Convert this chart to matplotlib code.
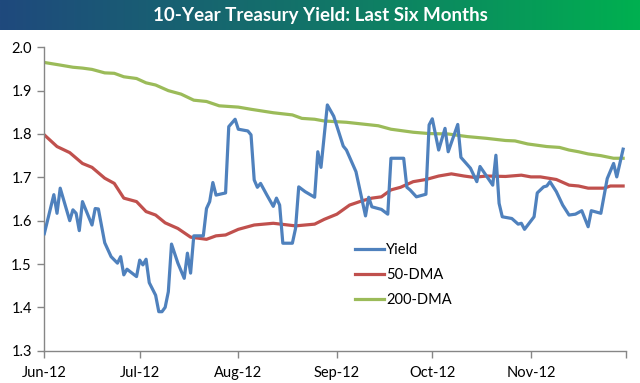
import matplotlib
matplotlib.use('Agg')
import matplotlib.pyplot as plt
from matplotlib.colors import LinearSegmentedColormap
import numpy as np
import pandas as pd

# Excel-ish palette
BLUE = '#4F81BD'
RED = '#C0504D'
GREEN = '#9BBB59'
AXIS_GRAY = '#868686'
BAR_LEFT = '#1F497D'
BAR_RIGHT = '#00B050'

plt.rcParams['font.family'] = ['Lato', 'DejaVu Sans']

# 10-year yield
yield_dates = [
    '2012-06-01', '2012-06-04', '2012-06-05', '2012-06-06', '2012-06-09', '2012-06-10',
    '2012-06-11', '2012-06-12', '2012-06-13', '2012-06-16', '2012-06-17', '2012-06-18',
    '2012-06-20', '2012-06-22', '2012-06-24', '2012-06-25', '2012-06-26', '2012-06-27',
    '2012-06-30', '2012-07-01', '2012-07-02', '2012-07-03', '2012-07-04', '2012-07-06',
    '2012-07-07', '2012-07-08', '2012-07-09', '2012-07-10', '2012-07-11', '2012-07-13',
    '2012-07-15', '2012-07-16', '2012-07-17', '2012-07-18', '2012-07-21', '2012-07-22',
    '2012-07-23', '2012-07-24', '2012-07-25', '2012-07-28', '2012-07-29', '2012-07-31',
    '2012-08-01', '2012-08-04', '2012-08-05', '2012-08-06', '2012-08-07', '2012-08-08',
    '2012-08-10', '2012-08-12', '2012-08-13', '2012-08-14', '2012-08-15', '2012-08-18',
    '2012-08-19', '2012-08-20', '2012-08-22', '2012-08-25', '2012-08-26', '2012-08-27',
    '2012-08-29', '2012-08-31', '2012-09-03', '2012-09-04', '2012-09-07', '2012-09-10',
    '2012-09-11', '2012-09-12', '2012-09-15', '2012-09-17', '2012-09-18', '2012-09-22',
    '2012-09-23', '2012-09-24', '2012-09-26', '2012-09-29', '2012-09-30', '2012-10-01',
    '2012-10-03', '2012-10-05', '2012-10-06', '2012-10-09', '2012-10-10', '2012-10-13',
    '2012-10-15', '2012-10-16', '2012-10-20', '2012-10-21', '2012-10-22', '2012-10-23',
    '2012-10-26', '2012-10-28', '2012-10-29', '2012-10-30', '2012-11-02', '2012-11-03',
    '2012-11-05', '2012-11-06', '2012-11-07', '2012-11-09', '2012-11-11', '2012-11-13',
    '2012-11-15', '2012-11-17', '2012-11-19', '2012-11-20', '2012-11-23', '2012-11-25',
    '2012-11-27', '2012-11-28', '2012-11-30',
]
yield_values = [
    1.570, 1.660, 1.617, 1.675, 1.600, 1.625,
    1.617, 1.577, 1.644, 1.590, 1.628, 1.627,
    1.549, 1.517, 1.502, 1.517, 1.475, 1.488,
    1.471, 1.509, 1.498, 1.511, 1.457, 1.428,
    1.390, 1.390, 1.400, 1.436, 1.546, 1.502,
    1.467, 1.525, 1.479, 1.565, 1.565, 1.628,
    1.644, 1.688, 1.659, 1.664, 1.817, 1.834,
    1.811, 1.807, 1.798, 1.694, 1.677, 1.686,
    1.659, 1.633, 1.652, 1.636, 1.548, 1.548,
    1.582, 1.678, 1.667, 1.654, 1.759, 1.723,
    1.867, 1.841, 1.772, 1.763, 1.713, 1.611,
    1.654, 1.632, 1.626, 1.615, 1.744, 1.744,
    1.677, 1.671, 1.655, 1.661, 1.821, 1.835,
    1.763, 1.813, 1.759, 1.822, 1.746, 1.721,
    1.690, 1.725, 1.682, 1.751, 1.640, 1.609,
    1.605, 1.592, 1.594, 1.580, 1.609, 1.664,
    1.678, 1.680, 1.690, 1.667, 1.636, 1.613,
    1.615, 1.623, 1.586, 1.623, 1.617, 1.697,
    1.732, 1.701, 1.765,
]

# 50-day moving average
dma50_dates = [
    '2012-06-01', '2012-06-05', '2012-06-09', '2012-06-13', '2012-06-16', '2012-06-20',
    '2012-06-23', '2012-06-26', '2012-06-30', '2012-07-03', '2012-07-06', '2012-07-09',
    '2012-07-13', '2012-07-17', '2012-07-22', '2012-07-25', '2012-07-28', '2012-08-01',
    '2012-08-06', '2012-08-12', '2012-08-19', '2012-08-25', '2012-08-28', '2012-09-01',
    '2012-09-05', '2012-09-09', '2012-09-12', '2012-09-15', '2012-09-18', '2012-09-21',
    '2012-09-25', '2012-09-29', '2012-10-03', '2012-10-07', '2012-10-11', '2012-10-14',
    '2012-10-18', '2012-10-24', '2012-10-29', '2012-11-01', '2012-11-04', '2012-11-09',
    '2012-11-13', '2012-11-16', '2012-11-19', '2012-11-24', '2012-11-26', '2012-11-30',
]
dma50_values = [
    1.798, 1.771, 1.757, 1.732, 1.723, 1.698,
    1.686, 1.652, 1.644, 1.621, 1.613, 1.595,
    1.582, 1.562, 1.557, 1.565, 1.567, 1.580,
    1.590, 1.594, 1.588, 1.592, 1.603, 1.615,
    1.636, 1.646, 1.652, 1.655, 1.671, 1.677,
    1.690, 1.695, 1.703, 1.708, 1.703, 1.700,
    1.703, 1.702, 1.705, 1.701, 1.701, 1.695,
    1.682, 1.680, 1.675, 1.675, 1.680, 1.680,
]

# 200-day moving average
dma200_dates = [
    '2012-06-01', '2012-06-06', '2012-06-10', '2012-06-13', '2012-06-16', '2012-06-20',
    '2012-06-23', '2012-06-26', '2012-06-30', '2012-07-03', '2012-07-06', '2012-07-10',
    '2012-07-14', '2012-07-18', '2012-07-22', '2012-07-26', '2012-08-01', '2012-08-05',
    '2012-08-12', '2012-08-18', '2012-08-21', '2012-08-25', '2012-08-28', '2012-09-04',
    '2012-09-09', '2012-09-14', '2012-09-18', '2012-09-25', '2012-09-30', '2012-10-06',
    '2012-10-12', '2012-10-18', '2012-10-24', '2012-10-27', '2012-10-31', '2012-11-06',
    '2012-11-10', '2012-11-13', '2012-11-16', '2012-11-19', '2012-11-23', '2012-11-27',
    '2012-11-30',
]
dma200_values = [
    1.965, 1.959, 1.954, 1.952, 1.949, 1.941,
    1.940, 1.932, 1.928, 1.918, 1.913, 1.900,
    1.892, 1.878, 1.875, 1.865, 1.862, 1.857,
    1.849, 1.844, 1.836, 1.834, 1.830, 1.827,
    1.823, 1.819, 1.811, 1.804, 1.801, 1.800,
    1.794, 1.790, 1.785, 1.784, 1.777, 1.771,
    1.769, 1.763, 1.759, 1.754, 1.750, 1.744,
    1.744,
]

y_ticks = [1.3, 1.4, 1.5, 1.6, 1.7, 1.8, 1.9, 2.0]
x_ticks = ['2012-06-01', '2012-07-01', '2012-08-01', '2012-09-01',
           '2012-10-01', '2012-11-01', '2012-12-01']
x_labels = ['Jun-12', 'Jul-12', 'Aug-12', 'Sep-12', 'Oct-12', 'Nov-12', '']
title = '10-Year Treasury Yield: Last Six Months'

fig = plt.figure(figsize=(6.4, 3.83), dpi=100)
fig.patch.set_facecolor('white')

# gradient title bar
bar_h = 30 / 383
bar_ax = fig.add_axes([0, 1 - bar_h, 1, bar_h])
cmap = LinearSegmentedColormap.from_list('bar', [BAR_LEFT, '#127568', BAR_RIGHT])
bar_ax.imshow(np.linspace(0, 1, 256).reshape(1, -1), aspect='auto', cmap=cmap,
              extent=[0, 1, 0, 1])
bar_ax.text(0.5, 0.48, title, ha='center', va='center', color='white',
            fontsize=13.5, fontweight='bold', transform=bar_ax.transAxes)
bar_ax.axis('off')

ax = fig.add_axes([44.3 / 640, 1 - 350.7 / 383, (626.3 - 44.3) / 640, (350.7 - 47.3) / 383])

ax.plot(pd.to_datetime(yield_dates), yield_values, color=BLUE, lw=2.3,
        label='Yield', solid_joinstyle='round', zorder=3)
ax.plot(pd.to_datetime(dma50_dates), dma50_values, color=RED, lw=2.3,
        label='50-DMA', solid_joinstyle='round', zorder=2)
ax.plot(pd.to_datetime(dma200_dates), dma200_values, color=GREEN, lw=2.3,
        label='200-DMA', solid_joinstyle='round', zorder=2)

ax.set_xlim(pd.Timestamp('2012-06-01'), pd.Timestamp('2012-12-01'))
ax.set_ylim(1.3, 2.0)
ax.set_yticks(y_ticks)
ax.yaxis.set_major_formatter(plt.FormatStrFormatter('%.1f'))
ax.set_xticks(pd.to_datetime(x_ticks))
ax.set_xticklabels(x_labels)

for side in ['top', 'right']:
    ax.spines[side].set_visible(False)
for side in ['left', 'bottom']:
    ax.spines[side].set_color(AXIS_GRAY)
    ax.spines[side].set_linewidth(1.0)
ax.tick_params(axis='both', colors=AXIS_GRAY, labelcolor='black', labelsize=10.5,
               length=5, width=1.0, direction='out')
ax.tick_params(axis='y', pad=4)
ax.tick_params(axis='x', pad=6)

ax.legend(loc='upper left', bbox_to_anchor=(0.534, 0.355), frameon=False,
          fontsize=10.5, handlelength=2.0, handletextpad=0.15, labelspacing=0.75,
          borderpad=0, borderaxespad=0)

fig.savefig('out.png', dpi=100, facecolor='white')
